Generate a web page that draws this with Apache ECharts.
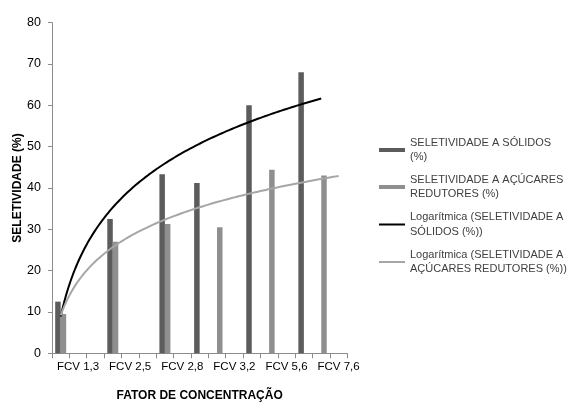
<!DOCTYPE html>
<html>
<head>
<meta charset="utf-8">
<script src="https://cdn.jsdelivr.net/npm/echarts@6/dist/echarts.min.js"></script>
<style>
html,body{margin:0;padding:0;background:#fff;}
#chart{width:570px;height:405px;}
</style>
</head>
<body>
<div id="chart"></div>
<script>
// ---- data ----
const categories = ['', 'FCV 1,3', '', '', 'FCV 2,5', '', '', 'FCV 2,8', '', '', 'FCV 3,2', '', '', 'FCV 5,6', '', '', 'FCV 7,6'];
const seletividadeSolidos = [12.5, null, null, 32.5, null, null, 43.3, null, 41.2, null, null, 60.0, null, null, 68.0, null, null];
const seletividadeAcucares = [9.5, null, null, 27.0, null, null, 31.3, null, null, 30.5, null, null, 44.4, null, null, 43.0, null];
const trendEndSolidos = 16;   // last x position (1-based) of trendline
const trendEndAcucares = 17;
const yTicks = [0, 10, 20, 30, 40, 50, 60, 70, 80];
const seriesNames = [
  'SELETIVIDADE A SÓLIDOS\n(%)',
  'SELETIVIDADE A AÇÚCARES\nREDUTORES (%)',
  'Logarítmica (SELETIVIDADE A\nSÓLIDOS (%))',
  'Logarítmica (SELETIVIDADE A\nAÇÚCARES REDUTORES (%))'
];

// Excel-style logarithmic trendline (least squares on ln(x), x = 1-based position)
function logFit(vals) {
  const pts = [];
  vals.forEach((v, i) => { if (v != null) pts.push([Math.log(i + 1), v]); });
  const n = pts.length;
  const mx = pts.reduce((s, p) => s + p[0], 0) / n;
  const my = pts.reduce((s, p) => s + p[1], 0) / n;
  let sxy = 0, sxx = 0;
  pts.forEach(p => { sxy += (p[0] - mx) * (p[1] - my); sxx += (p[0] - mx) * (p[0] - mx); });
  const a = sxy / sxx, b = my - a * mx;
  return { a, b };
}
function trendPoints(vals, xEnd) {
  const f = logFit(vals);
  const out = [];
  for (let x = 1; x <= xEnd + 1e-9; x += 0.05) out.push([x, f.a * Math.log(x) + f.b]);
  return out;
}

const FONT = "'Liberation Sans', Arial, sans-serif";
const chart = echarts.init(document.getElementById('chart'), null, { renderer: 'canvas' });

const LH = 14.5;
function legendAt(name, firstLineCenter, iconH) {
  return {
    data: [{ name: name, icon: 'rect' }],
    left: 379, top: firstLineCenter - 1.5 * LH, orient: 'vertical', padding: 0,
    itemWidth: 26, itemHeight: iconH,
    textStyle: { fontFamily: FONT, fontSize: 11, color: '#404040', lineHeight: LH, padding: [LH, 0, 0, 0] },
    selectedMode: false
  };
}

const option = {
  backgroundColor: '#ffffff',
  animation: false,
  textStyle: { fontFamily: FONT },
  legend: [
    legendAt(seriesNames[0], 150, 4),
    legendAt(seriesNames[1], 187, 4),
    legendAt(seriesNames[2], 224.5, 2),
    legendAt(seriesNames[3], 262, 2)
  ],
  grid: { left: 52, top: 22.7, right: 222.7, bottom: 51.7, outerBoundsMode: 'none' },
  xAxis: [
    {
      type: 'category', data: categories, boundaryGap: true,
      name: 'FATOR DE CONCENTRAÇÃO', nameLocation: 'middle', nameGap: 36, nameMoveOverlap: false,
      nameTextStyle: { fontFamily: FONT, fontSize: 12, fontWeight: 'bold', color: '#000' },
      axisLine: { show: true, lineStyle: { color: '#8c8c8c', width: 1 } },
      axisTick: { show: true, interval: 0, alignWithLabel: false, length: 5, lineStyle: { color: '#8c8c8c' } },
      axisLabel: { interval: 0, margin: 8, fontFamily: FONT, fontSize: 11.5, color: '#000' },
      splitLine: { show: false }
    },
    {
      type: 'value', min: 0.5, max: 17.5, show: false
    }
  ],
  yAxis: {
    type: 'value', min: yTicks[0], max: yTicks[yTicks.length - 1], interval: 10,
    name: 'SELETIVIDADE (%)', nameLocation: 'middle', nameGap: 28, nameRotate: 90, nameMoveOverlap: false,
    nameTextStyle: { fontFamily: FONT, fontSize: 12, fontWeight: 'bold', color: '#000' },
    axisLine: { show: true, lineStyle: { color: '#8c8c8c', width: 1 } },
    axisTick: { show: true, length: 4, lineStyle: { color: '#8c8c8c' } },
    axisLabel: { margin: 11, fontFamily: FONT, fontSize: 12.5, color: '#000' },
    splitLine: { show: false }
  },
  series: [
    {
      name: seriesNames[0], type: 'bar', data: seletividadeSolidos,
      barWidth: 5.5, barGap: '0%', itemStyle: { color: '#5c5c5c' }, z: 2
    },
    {
      name: seriesNames[1], type: 'bar', data: seletividadeAcucares,
      barWidth: 5.5, barGap: '0%', itemStyle: { color: '#8f8f8f' }, z: 2
    },
    {
      name: seriesNames[2], type: 'line', xAxisIndex: 1,
      data: trendPoints(seletividadeSolidos, trendEndSolidos),
      showSymbol: false, symbol: 'none', smooth: false,
      lineStyle: { color: '#000000', width: 2 }, itemStyle: { color: '#000000' }, z: 5
    },
    {
      name: seriesNames[3], type: 'line', xAxisIndex: 1,
      data: trendPoints(seletividadeAcucares, trendEndAcucares),
      showSymbol: false, symbol: 'none', smooth: false,
      lineStyle: { color: '#a6a6a6', width: 2 }, itemStyle: { color: '#a6a6a6' }, z: 5
    }
  ]
};
chart.setOption(option);
</script>
</body>
</html>
